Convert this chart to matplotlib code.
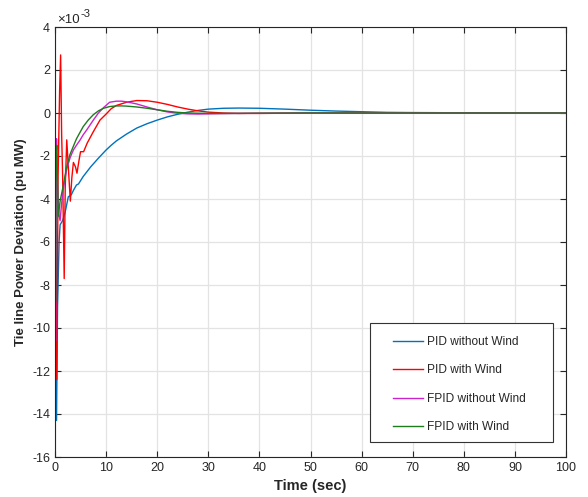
import matplotlib
matplotlib.use('Agg')
import matplotlib.pyplot as plt
from matplotlib.patches import Rectangle

plt.rcParams['font.family'] = ['Liberation Sans', 'DejaVu Sans']
plt.rcParams['axes.unicode_minus'] = False

# Tie line power deviation, in units of 1e-3 pu MW
t_pid = [0, 0.15, 0.3, 0.5, 0.8, 1.0, 1.5, 2.0, 2.6, 3.2, 3.6, 4.2, 4.6, 5.5,
         7, 8.5, 10, 11, 12, 14, 16, 18, 20, 22, 24, 26, 28, 30, 33, 36, 40, 45,
         50, 55, 60, 65, 70, 80, 90, 100]
pid_no_wind = [0, -8, -14.3, -9, -6, -5.2, -5.0, -4.6, -3.9, -3.8, -3.6, -3.35, -3.3,
               -2.96, -2.5, -2.1, -1.72, -1.5, -1.3, -0.98, -0.7, -0.5, -0.33,
               -0.18, -0.06, 0.04, 0.12, 0.18, 0.22, 0.23, 0.22, 0.18, 0.13, 0.09,
               0.06, 0.03, 0.02, 0.01, 0, 0]

t_pidw = [0, 0.15, 0.35, 0.6, 0.9, 1.1, 1.3, 1.5, 1.8, 2.0, 2.3, 2.6, 3.0, 3.3, 3.6,
          4.0, 4.3, 4.7, 5.0, 5.6, 6.3, 7.5, 8.8, 10, 11, 12, 14, 16, 18, 20, 22,
          24, 26, 28, 30, 33, 36, 40, 50, 100]
pid_wind = [0, -6, -12.4, -3, 1, 2.7, -1, -3, -7.7, -3.5, -1.25, -2.5, -4.1, -3, -2.3,
            -2.5, -2.8, -2.2, -1.8, -1.8, -1.4, -0.87, -0.33, -0.05, 0.2, 0.35,
            0.5, 0.58, 0.57, 0.5, 0.4, 0.28, 0.18, 0.1, 0.04, 0.0, -0.02, -0.02,
            0, 0]

t_fpid = [0, 0.1, 0.2, 0.3, 0.5, 0.8, 1.0, 1.3, 1.6, 2.0, 2.3, 3.0, 3.6, 4.2, 4.9,
          5.5, 6.2, 7.5, 8.5, 9.5, 10.7, 12, 13, 14, 16, 18, 20, 22, 24, 26, 28,
          30, 35, 40, 50, 100]
fpid_no_wind = [0, -10.6, -5, -1.2, -3.5, -4.8, -5.0, -4.2, -3.6, -3.0, -2.6, -2.05,
                -1.72, -1.5, -1.26, -1.02, -0.79, -0.33, 0.0, 0.25, 0.5, 0.55, 0.55,
                0.52, 0.42, 0.28, 0.15, 0.05, -0.01, -0.04, -0.05, -0.04, -0.02,
                -0.01, 0, 0]

t_fpidw = [0, 0.1, 0.2, 0.35, 0.65, 1.0, 1.6, 2.2, 2.9, 3.5, 4.2, 5.5, 6.5, 7.5, 8.5,
           9.5, 10.7, 12, 13, 14, 16, 18, 20, 22, 24, 26, 30, 35, 40, 50, 100]
fpid_wind = [0, -8.8, -2, -1.5, -4.8, -4.1, -3.4, -2.6, -1.95, -1.6, -1.2, -0.64,
             -0.33, -0.08, 0.1, 0.22, 0.3, 0.33, 0.33, 0.32, 0.28, 0.22, 0.15, 0.08,
             0.03, 0.0, -0.02, -0.02, -0.01, 0, 0]

labels = ['PID without Wind', 'PID with Wind', 'FPID without Wind', 'FPID with Wind']
colors = ['#0072BD', '#FF0000', '#CC22CC', '#1E7B1E']

W, H = 588, 497
fig = plt.figure(figsize=(W / 100, H / 100), dpi=100)
ax = fig.add_axes([55 / W, 1 - 457 / H, 511 / W, 430 / H])

series = [(t_pid, pid_no_wind), (t_pidw, pid_wind), (t_fpid, fpid_no_wind), (t_fpidw, fpid_wind)]
for (t, v), lab, c in zip(series, labels, colors):
    ax.plot(t, v, color=c, lw=1.0, label=lab)

ax.set_xlim(0, 100)
ax.set_ylim(-16, 4)
ax.set_xticks(range(0, 101, 10))
ax.set_yticks(range(-16, 5, 2))

# MATLAB style exponent label above the axes
fig.text(57 / W, 1 - 23 / H, '\u00d710', fontsize=9.5, color='#262626', va='baseline')
fig.text(81 / W, 1 - 17 / H, '-3', fontsize=8, color='#262626', va='baseline')

ax.grid(True, color='#e3e3e3', lw=0.9)
ax.set_axisbelow(True)
ax.tick_params(direction='in', top=True, right=True, labelsize=9, colors='#262626',
               length=4, width=0.8)
for s in ax.spines.values():
    s.set_color('#262626')
    s.set_linewidth(0.8)

ax.set_xlabel('Time (sec)', fontsize=10.5, fontweight='bold', color='#262626', labelpad=4)
ax.set_ylabel('Tie line Power Deviation (pu MW)', fontsize=9.5, fontweight='bold',
              color='#262626', labelpad=4)

# legend box drawn separately so the entries can sit inset like MATLAB's
ax.add_patch(Rectangle((370 / W, 1 - 442 / H), 183 / W, 119 / H, transform=fig.transFigure,
                       facecolor='white', edgecolor='#333333', lw=0.8, zorder=4))
leg = ax.legend(loc='upper left', bbox_to_anchor=(393 / W, 1 - 336 / H),
                bbox_transform=fig.transFigure, fontsize=8.6, handlelength=2.5,
                labelspacing=1.38, borderpad=0, frameon=False, handletextpad=0.37,
                borderaxespad=0)
leg.set_zorder(5)
for txt in leg.get_texts():
    txt.set_color('#262626')

fig.savefig('out.png', dpi=100)
